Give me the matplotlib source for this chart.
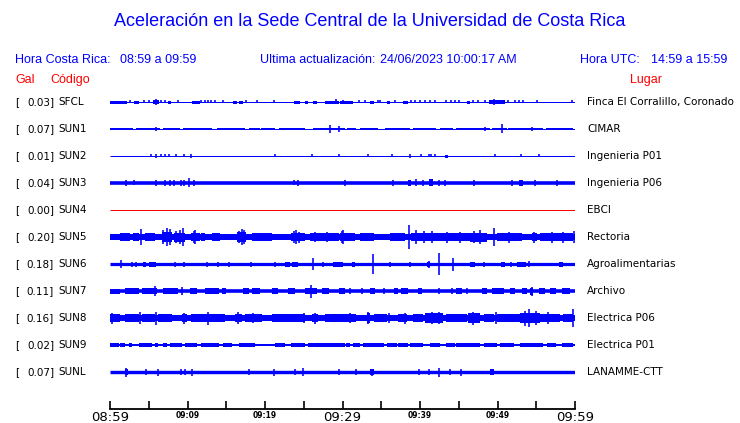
import matplotlib
matplotlib.use("Agg")
import matplotlib.pyplot as plt
from matplotlib.transforms import blended_transform_factory

# station data
codes = ["SFCL", "SUN1", "SUN2", "SUN3", "SUN4", "SUN5", "SUN6", "SUN7", "SUN8", "SUN9", "SUNL"]
gal = [0.03, 0.07, 0.01, 0.04, 0.00, 0.20, 0.18, 0.11, 0.16, 0.02, 0.07]
places = ["Finca El Corralillo, Coronado", "CIMAR", "Ingenieria P01", "Ingenieria P06", "EBCI",
          "Rectoria", "Agroalimentarias", "Archivo", "Electrica P06", "Electrica P01", "LANAMME-CTT"]
trace_colors = ["blue"] * 4 + ["red"] + ["blue"] * 6

# half thickness (px) of the quiet trace
base = [0.5, 0.5, 0.5, 1.8, 0.5, 3.0, 1.6, 1.8, 3.0, 1.0, 1.7]

# noisy stretches: (start minute, end minute, half height px)
bursts = [
    [(0, 2.2, 1.5), (3.1, 3.7, 1.5), (5.5, 6.3, 2), (7.5, 7.9, 1.5), (10.6, 11.6, 1.5), (15.9, 16.4, 1.5),
     (16.6, 17.2, 1.5), (23.7, 24.5, 1.5), (25.2, 25.6, 1.5), (26.2, 26.7, 1.5), (27.7, 29.5, 1.5),
     (29.7, 31.4, 1.5), (33.6, 34.1, 1.5), (35.7, 36.1, 1.5), (37.8, 38.5, 1.5), (46.0, 46.4, 1.5),
     (48.9, 51.0, 2)],
    [(0, 3.0, 1.3), (3.4, 6.5, 1.3), (6.9, 9.0, 1.3), (9.4, 13.2, 1.3), (13.8, 17.4, 1.3), (17.9, 19.3, 1.3),
     (19.5, 21.3, 1.3), (21.8, 25.2, 1.3), (26.2, 30.3, 1.3), (30.6, 31.8, 1.3), (32.2, 34.6, 1.3),
     (35.5, 38.7, 1.3), (39.1, 42.1, 1.3), (42.6, 44.3, 1.3), (44.7, 49.0, 1.3), (49.3, 51.2, 1.3),
     (51.4, 55.9, 1.3), (56.3, 59.8, 1.3)],
    [(43.2, 43.6, 1.5)],
    [(38.5, 38.9, 3), (41.1, 41.7, 3.5), (52.8, 53.3, 3)],
    [],
    [(1.3, 2.6, 3.6), (3.0, 3.7, 3.8), (4.5, 5.8, 4), (6.7, 8.0, 5), (8.2, 9.7, 4.5), (10.5, 11.6, 4.2),
     (11.8, 12.3, 3.6), (13.1, 14.2, 3.6), (14.8, 15.7, 3.4), (16.4, 17.6, 4.8), (18.3, 20.9, 3.6),
     (23.4, 25.2, 4), (25.8, 29.5, 3.8), (29.7, 31.6, 4), (32.3, 34.0, 3.6), (36.1, 38.1, 3.6),
     (38.9, 42.6, 4.3), (42.6, 46.5, 3.8), (46.5, 48.6, 4.5), (49.9, 53.1, 3.8), (54.4, 55.1, 4),
     (55.5, 59.8, 3.8)],
    [(4.2, 4.7, 2.5), (5.0, 5.9, 2.5), (22.6, 23.2, 2.5), (23.5, 24.2, 2.5), (28.8, 30.0, 2.5),
     (31.2, 31.6, 2.5), (40.9, 41.3, 2.5), (46.5, 47.1, 2.5), (50.5, 51.0, 2.5), (52.5, 53.7, 2.5),
     (57.9, 58.5, 2.5)],
    [(0, 1.3, 2.5), (1.9, 3.7, 2.8), (4.1, 6.0, 3), (6.9, 8.8, 2.8), (10.3, 11.2, 2.6), (12.3, 14.0, 2.8),
     (14.4, 15.0, 2.6), (17.2, 17.9, 3.2), (18.3, 19.4, 2.8), (20.9, 21.7, 2.8), (23.0, 23.9, 2.8),
     (25.2, 26.7, 3.2), (27.3, 28.2, 2.8), (29.5, 30.3, 2.8), (33.6, 34.2, 2.8), (36.6, 37.2, 2.8),
     (37.6, 38.5, 2.8), (39.8, 40.2, 2.8), (44.7, 45.4, 2.8), (48.0, 48.6, 2.8), (49.3, 50.8, 3.2),
     (51.6, 52.3, 2.8), (53.1, 53.8, 2.8), (54.2, 54.6, 3.5), (55.3, 56.1, 3.2), (56.8, 57.6, 2.8),
     (58.3, 59.4, 2.8)],
    [(0, 1.3, 4.2), (1.9, 3.7, 3.6), (4.1, 5.8, 3.9), (6.2, 8.0, 3.9), (9.3, 9.9, 4.2), (10.5, 12.3, 3.6),
     (12.3, 13.1, 4.4), (13.1, 14.8, 3.9), (16.1, 17.0, 4.4), (17.4, 19.6, 3.6), (20.9, 25.2, 3.6),
     (26.0, 26.9, 4.2), (27.7, 30.3, 3.9), (29.7, 31.8, 3.9), (33.1, 33.6, 4.6), (34.0, 35.7, 3.9),
     (37.2, 38.3, 4.2), (39.1, 40.4, 4.2), (40.7, 43.0, 4.6), (43.4, 46.0, 3.9), (46.2, 47.7, 4.6),
     (48.2, 49.5, 3.9), (49.9, 52.9, 4.2), (52.9, 55.5, 5.2), (55.5, 58.1, 4.4), (58.5, 59.8, 3.9)],
    [(0, 1.1, 1.8), (1.3, 1.9, 1.8), (2.4, 2.8, 1.8), (3.7, 5.4, 1.8), (5.8, 6.2, 1.8), (6.9, 7.3, 1.8),
     (7.7, 9.3, 1.8), (9.7, 11.2, 1.8), (11.8, 14.0, 1.8), (14.6, 15.7, 1.8), (16.6, 18.7, 1.8),
     (21.3, 22.6, 1.8), (23.4, 25.2, 1.8), (25.6, 30.3, 1.8), (30.5, 31.0, 1.8), (31.4, 32.3, 1.8),
     (32.7, 35.3, 1.8), (35.7, 37.0, 1.8), (37.2, 38.5, 1.8), (38.7, 40.4, 1.8), (41.3, 42.6, 1.8),
     (43.4, 44.5, 1.8), (44.7, 47.7, 1.8), (48.2, 49.9, 1.8), (50.3, 52.1, 1.8), (52.9, 55.9, 1.8),
     (56.4, 57.6, 1.8), (58.3, 59.8, 1.8)],
    [(1.9, 2.3, 3), (33.5, 34.0, 3), (49.0, 49.6, 2.8)],
]

# single spikes: (minute, half height px)
spikes = [
    [(2.6, 1.5), (4.4, 1.5), (5.0, 1.5), (5.9, 3), (6.6, 1.5), (7.1, 1.5), (8.8, 1.5), (11.8, 1.5),
     (12.3, 1.5), (12.7, 1.5), (13.0, 1.5), (13.6, 1.5), (14.6, 1.5), (17.6, 1.5), (19.0, 1.5),
     (21.1, 1.5), (29.2, 2.5), (30.1, 1.5), (32.1, 1.5), (32.9, 1.5), (34.6, 1.5), (34.9, 1.5),
     (36.8, 1.5), (38.9, 1.5), (39.4, 1.5), (40.0, 1.5), (40.7, 1.5), (41.3, 1.5), (41.9, 1.5),
     (43.4, 1.5), (44.0, 1.5), (44.5, 1.5), (45.0, 1.5), (46.9, 1.5), (47.5, 1.5), (48.4, 1.5),
     (49.6, 3), (51.4, 1.5), (52.3, 1.5), (52.8, 1.5), (53.3, 1.5), (55.1, 1.5), (59.6, 1.5)],
    [(5.9, 2), (28.4, 4), (29.6, 3), (48.4, 2), (50.6, 4.5), (54.5, 2)],
    [(5.3, 1.5), (5.9, 2), (6.6, 1.5), (7.1, 1.5), (7.6, 1.5), (8.5, 1.5), (9.5, 1.5), (10.5, 2),
     (21.3, 1.5), (26.0, 1.5), (29.5, 1.5), (33.3, 1.5), (36.4, 1.5), (38.7, 2), (40.1, 1.5),
     (41.1, 1.5), (41.4, 1.5), (41.9, 1.5), (49.7, 1.5), (53.0, 1.5), (55.3, 1.5)],
    [(2.0, 3), (3.1, 2.5), (5.9, 3), (7.1, 2.8), (7.7, 3), (8.3, 2.8), (9.2, 2.8), (9.5, 3), (10.2, 4.5),
     (10.9, 2.8), (23.7, 2.5), (24.3, 2.8), (30.3, 2.8), (36.5, 2.8), (39.5, 3.5), (40.4, 2.8),
     (42.4, 2.8), (43.2, 3), (47.0, 2.8), (51.9, 2.8), (54.8, 2.8), (57.7, 2.8)],
    [],
    [(4.0, 8), (6.9, 7), (7.3, 9), (7.7, 8), (8.5, 6), (9.0, 7), (9.4, 9), (10.8, 6), (11.0, 7),
     (16.6, 6), (17.0, 8), (17.3, 7), (23.7, 6), (24.0, 7), (24.4, 5.5), (26.5, 5), (28.0, 5),
     (29.9, 6), (30.1, 7), (38.6, 12), (39.5, 7), (40.5, 6), (41.5, 6), (43.5, 5.5), (45.2, 5.5),
     (47.0, 6), (47.8, 7), (49.5, 9), (51.5, 5.5), (54.7, 5.5), (57.0, 5.5), (58.5, 5.5), (59.9, 6)],
    [(1.4, 4), (2.8, 2.5), (3.4, 2.5), (8.4, 2.5), (9.5, 2.5), (12.5, 2.5), (13.9, 2.5), (15.4, 2.5),
     (18.2, 2.5), (21.3, 2.5), (26.2, 5.8), (27.5, 2.5), (33.98, 10), (36.1, 2.5), (38.7, 2.5),
     (41.1, 3.5), (42.4, 11), (44.2, 6.5), (48.2, 2.5), (51.8, 2.5), (54.1, 3)],
    [(5.8, 5), (9.3, 4), (25.9, 6.5), (31.0, 2.8), (32.5, 2.8), (35.3, 2.8), (42.4, 2.8), (44.1, 3),
     (46.0, 2.8), (54.4, 4.5)],
    [(0.3, 5.5), (3.9, 6), (5.9, 6.5), (9.5, 5.5), (12.7, 6.5), (16.5, 6), (18.5, 5), (25.0, 5),
     (26.4, 5.5), (31.0, 5), (33.3, 6), (36.0, 5), (38.0, 5.5), (41.5, 6), (42.5, 6), (46.8, 6.5),
     (49.8, 6), (53.5, 7.5), (54.0, 9), (55.0, 7), (56.5, 6), (59.8, 9)],
    [],
    [(2.1, 4.5), (4.7, 3), (6.2, 3.5), (9.2, 2.8), (9.7, 2.8), (10.6, 3.5), (17.9, 2.8), (21.1, 3.5),
     (23.9, 2.8), (24.9, 4), (29.5, 2.8), (31.8, 2.8), (33.8, 3.5), (39.9, 2.8), (41.1, 2.8),
     (42.5, 4.5), (43.9, 2.8), (45.3, 3.5)],
]

row_y = [102 + 27 * i for i in range(len(codes))]  # trace centre rows (px)

small_ticks = [10, 20, 40, 50]
small_labels = ["09:09", "09:19", "09:39", "09:49"]
big_ticks = [0, 30, 60]
big_labels = ["08:59", "09:29", "09:59"]

W, H = 740, 423
fig = plt.figure(figsize=(W / 100, H / 100), dpi=100)
PT = 0.72  # points per pixel at 100 dpi


def fx(px):
    return px / W


def fy(py):
    return 1 - py / H


ax = fig.add_axes([fx(110), fy(386), fx(575) - fx(110), fy(88) - fy(386)])
ax.set_xlim(0, 60)
ax.set_ylim(386, 88)
ax.axis("off")

for i, yc in enumerate(row_y):
    c = trace_colors[i]
    ax.hlines(yc, 0, 60, color=c, lw=max(2 * base[i], 1) * PT)
    for t0, t1, h in bursts[i]:
        ax.fill_between([t0, t1], yc - h, yc + h, color=c, lw=0)
    for t, h in spikes[i]:
        ax.vlines(t, yc - h, yc + h, color=c, lw=1.6 * PT)

# time axis: a bare axes whose bottom spine sits at y = 409 px
tax = fig.add_axes([fx(110), fy(409), fx(575) - fx(110), 0.001])
tax.set_xlim(0, 60)
tax.set_yticks([])
for s in ["left", "right", "top"]:
    tax.spines[s].set_visible(False)
tax.spines["bottom"].set_linewidth(1.3)
tax.set_xticks(range(0, 61, 5))
tax.tick_params(axis="x", direction="in", length=8 * PT, width=1.2, labelbottom=False)

lab_tr = blended_transform_factory(tax.transData, fig.transFigure)
for t, s in zip(small_ticks, small_labels):
    tax.text(t, fy(410.5), s, transform=lab_tr, ha="center", va="top",
             fontsize=5.5, fontweight="bold", family="DejaVu Sans", clip_on=False)
for t, s in zip(big_ticks, big_labels):
    tax.text(t, fy(410.5), s, transform=lab_tr, ha="center", va="top",
             fontsize=9.5, family="DejaVu Sans", clip_on=False)

# titles and headers
sans = "Liberation Sans"
fig.text(0.5, fy(22), "Aceleración en la Sede Central de la Universidad de Costa Rica",
         ha="center", va="center", fontsize=13, color="blue", family=sans)
hdr = dict(fontsize=9, color="blue", family=sans, va="center")
fig.text(fx(15), fy(60), "Hora Costa Rica:", **hdr)
fig.text(fx(120), fy(60), "08:59 a 09:59", **hdr)
fig.text(fx(260), fy(60), "Ultima actualización:", **hdr)
fig.text(fx(380), fy(60), "24/06/2023 10:00:17 AM", **hdr)
fig.text(fx(580), fy(60), "Hora UTC:", **hdr)
fig.text(fx(651), fy(60), "14:59 a 15:59", **hdr)
red = dict(fontsize=9, color="red", family=sans, va="center")
fig.text(fx(15), fy(80), "Gal", **red)
fig.text(fx(50), fy(80), "Código", **red)
fig.text(fx(630), fy(80), "Lugar", **red)

lab = dict(fontsize=7.5, color="black", family="DejaVu Sans", va="center")
for i, yc in enumerate(row_y):
    fig.text(fx(15), fy(yc), "[", **lab)
    fig.text(fx(54), fy(yc), f"{gal[i]:.2f}]", ha="right", **lab)
    fig.text(fx(58), fy(yc), codes[i], **lab)
    fig.text(fx(587), fy(yc), places[i], **lab)

fig.savefig("out.png", dpi=100)
